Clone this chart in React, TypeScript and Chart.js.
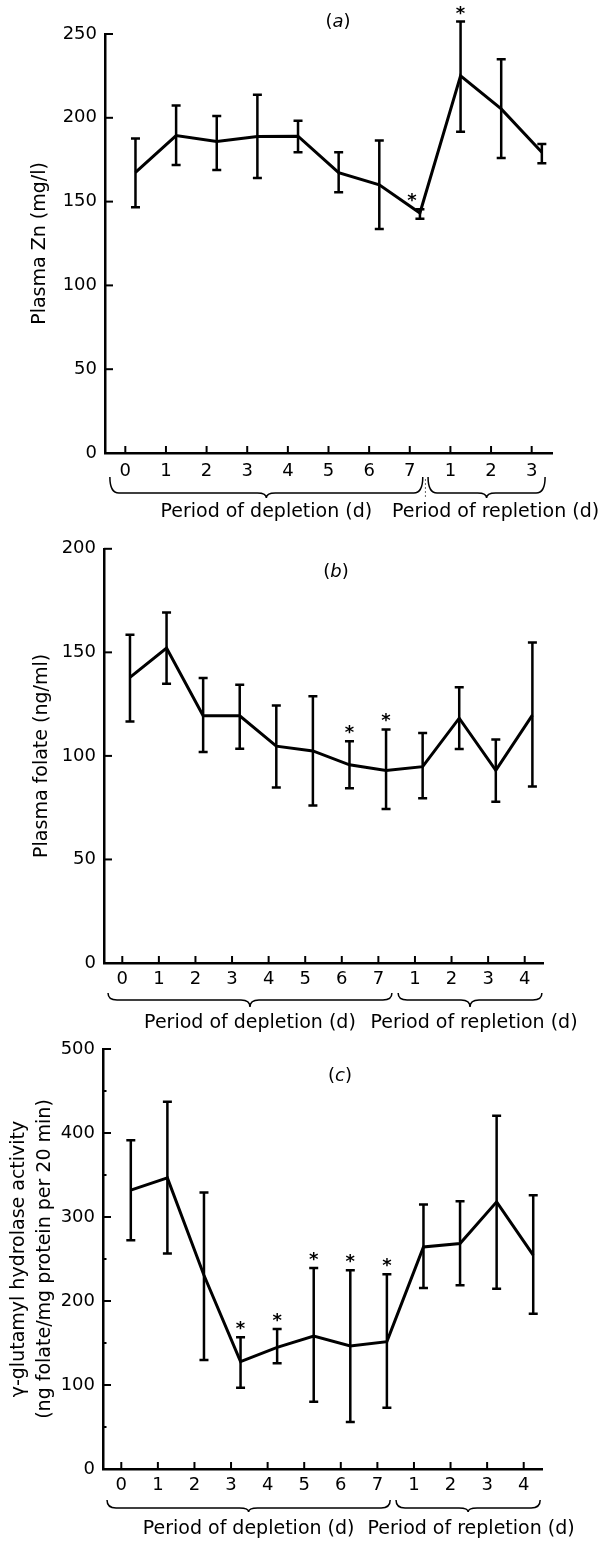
import React, { useEffect, useRef } from "react";
import { Chart, registerables } from "chart.js";

Chart.register(...registerables);

const FONT = '"DejaVu Sans", "Liberation Sans", sans-serif';

// ---------- (a) Plasma Zn ----------
const zincDays = ["0", "1", "2", "3", "4", "5", "6", "7", "1", "2", "3"];
const zincMean = [167.5, 189.4, 185.8, 188.8, 189, 167.3, 160, 143.2, 225.1, 205.3, 179.4];
const zincUpper = [187.6, 207.3, 201.1, 213.8, 198.3, 179.4, 186.4, 145.4, 257.4, 234.9, 184.4];
const zincLower = [146.6, 171.9, 168.9, 164.1, 179.4, 155.6, 133.7, 139.7, 191.7, 176, 172.9];
const zincSignificant = [false, false, false, false, false, false, false, true, true, false, false];

// ---------- (b) Plasma folate ----------
const folateDays = ["0", "1", "2", "3", "4", "5", "6", "7", "1", "2", "3", "4"];
const folateMean = [137.9, 152.1, 119.4, 119.4, 104.7, 102.4, 95.7, 93, 94.8, 118.2, 93, 119.7];
const folateUpper = [158.5, 169.2, 137.6, 134.3, 124.3, 128.8, 107.1, 112.8, 111.1, 133.2, 107.9, 154.7];
const folateLower = [116.6, 134.8, 101.9, 103.5, 84.8, 76, 84.4, 74.4, 79.6, 103.3, 77.9, 85.2];
const folateSignificant = [false, false, false, false, false, false, true, true, false, false, false, false];

// ---------- (c) gamma-glutamyl hydrolase ----------
const hydrolaseDays = ["0", "1", "2", "3", "4", "5", "6", "7", "1", "2", "3", "4"];
const hydrolaseMean = [332, 346.6, 230.6, 127.8, 144.8, 158.3, 146.4, 151.6, 264.4, 268.4, 318, 254.5];
const hydrolaseUpper = [391.5, 437.2, 329.2, 156.8, 166.7, 239.4, 236.6, 231.8, 314.9, 318.8, 420.5, 326];
const hydrolaseLower = [272.3, 256.5, 129.8, 96.8, 125.8, 80.2, 56, 73, 215.5, 218.7, 214.7, 184.9];
const hydrolaseSignificant = [false, false, false, true, true, true, true, true, false, false, false, false];

const depletionText = "Period of depletion (d)";
const repletionText = "Period of repletion (d)";

type PanelSpec = {
  key: string;
  letter: string;
  canvasTop: number;
  canvasHeight: number;
  padBottom: number;
  area: { left: number; top: number; right: number; bottom: number };
  labels: string[];
  mean: number[];
  upper: number[];
  lower: number[];
  stars: boolean[];
  starDx: number[];
  yMax: number;
  yStep: number;
  minor: boolean;
  yTitle: string | string[];
  titleLineHeight: number;
  titlePad: number;
  shift: number;
  tickPad: number;
  letterX: number;
  letterDy: number;
  depSpan: [number, number];
  repSpan: [number, number];
  brace: { dy: number; h: number; hh: number };
  textDy: number;
  repTextShift: number;
  separator: boolean;
};

const panels: PanelSpec[] = [
  {
    key: "a",
    letter: "a",
    canvasTop: 0,
    canvasHeight: 530,
    padBottom: 0,
    area: { left: 105, top: 34, right: 552, bottom: 453 },
    labels: zincDays,
    mean: zincMean,
    upper: zincUpper,
    lower: zincLower,
    stars: zincSignificant,
    starDx: [0, 0, 0, 0, 0, 0, 0, -8, 0, 0, 0],
    yMax: 250,
    yStep: 50,
    minor: false,
    yTitle: "Plasma Zn (mg/l)",
    titleLineHeight: 1.2,
    titlePad: 28.6,
    shift: 0.25,
    tickPad: 8,
    letterX: 338,
    letterDy: -12,
    depSpan: [-0.38, 7.32],
    repSpan: [7.45, 10.33],
    brace: { dy: 24, h: 21, hh: 16 },
    textDy: 59,
    repTextShift: 9,
    separator: true,
  },
  {
    key: "b",
    letter: "b",
    canvasTop: 530,
    canvasHeight: 515,
    padBottom: 15,
    area: { left: 104, top: 542, right: 543, bottom: 963 },
    labels: folateDays,
    mean: folateMean,
    upper: folateUpper,
    lower: folateLower,
    stars: folateSignificant,
    starDx: [0, 0, 0, 0, 0, 0, 0, 0, 0, 0, 0, 0],
    yMax: 200,
    yStep: 50,
    minor: false,
    yTitle: "Plasma folate (ng/ml)",
    titleLineHeight: 1.2,
    titlePad: 30.6,
    shift: 0.21,
    tickPad: 6,
    letterX: 336,
    letterDy: 24,
    depSpan: [-0.39, 7.37],
    repSpan: [7.54, 11.47],
    brace: { dy: 30, h: 14, hh: 7 },
    textDy: 60,
    repTextShift: 4,
    separator: false,
  },
  {
    key: "c",
    letter: "c",
    canvasTop: 1030,
    canvasHeight: 512,
    padBottom: 0,
    area: { left: 103, top: 1049, right: 542, bottom: 1469 },
    labels: hydrolaseDays,
    mean: hydrolaseMean,
    upper: hydrolaseUpper,
    lower: hydrolaseLower,
    stars: hydrolaseSignificant,
    starDx: [0, 0, 0, 0, 0, 0, 0, 0, 0, 0, 0, 0],
    yMax: 500,
    yStep: 100,
    minor: true,
    yTitle: ["\u03b3-glutamyl hydrolase activity", "(ng folate/mg protein per 20 min)"],
    titleLineHeight: 1.37,
    titlePad: 6,
    shift: 0.26,
    tickPad: 6,
    letterX: 340,
    letterDy: 27,
    depSpan: [-0.39, 7.35],
    repSpan: [7.51, 11.45],
    brace: { dy: 31, h: 12, hh: 8 },
    textDy: 60,
    repTextShift: 3,
    separator: false,
  },
];

function drawBrace(ctx: CanvasRenderingContext2D, x1: number, x2: number, y: number, h: number, hh: number) {
  const xm = (x1 + x2) / 2;
  const r = Math.min(9, (x2 - x1) / 8);
  ctx.beginPath();
  ctx.moveTo(x1, y);
  ctx.quadraticCurveTo(x1, y + hh, x1 + r, y + hh);
  ctx.lineTo(xm - r, y + hh);
  ctx.quadraticCurveTo(xm, y + hh, xm, y + h);
  ctx.quadraticCurveTo(xm, y + hh, xm + r, y + hh);
  ctx.lineTo(x2 - r, y + hh);
  ctx.quadraticCurveTo(x2, y + hh, x2, y);
  ctx.stroke();
}

function makeDecor(p: PanelSpec) {
  return {
    id: "decor" + p.key,
    afterDatasetsDraw(chart: any) {
      const ctx: CanvasRenderingContext2D = chart.ctx;
      const xs = chart.scales.x;
      const ys = chart.scales.y;
      const { left, top, bottom } = chart.chartArea;
      ctx.save();
      ctx.strokeStyle = "#000";
      ctx.fillStyle = "#000";
      ctx.lineCap = "butt";

      // error bars + significance stars
      p.mean.forEach((_, i) => {
        const px = xs.getPixelForValue(i + p.shift);
        const yu = ys.getPixelForValue(p.upper[i]);
        const yl = ys.getPixelForValue(p.lower[i]);
        ctx.lineWidth = 2.5;
        ctx.beginPath();
        ctx.moveTo(px, yu);
        ctx.lineTo(px, yl);
        ctx.moveTo(px - 4.5, yu);
        ctx.lineTo(px + 4.5, yu);
        ctx.moveTo(px - 4.5, yl);
        ctx.lineTo(px + 4.5, yl);
        ctx.stroke();
        if (p.stars[i]) {
          ctx.font = `bold 18px ${FONT}`;
          ctx.textAlign = "center";
          ctx.textBaseline = "alphabetic";
          ctx.fillText("*", px + p.starDx[i], yu - 3);
        }
      });

      // inward tick marks
      ctx.lineWidth = 2;
      xs.ticks.forEach((t: any) => {
        const px = xs.getPixelForValue(t.value);
        ctx.beginPath();
        ctx.moveTo(px, bottom);
        ctx.lineTo(px, bottom - 7);
        ctx.stroke();
      });
      ys.ticks.forEach((t: any) => {
        const py = ys.getPixelForValue(t.value);
        ctx.beginPath();
        ctx.moveTo(left, py);
        ctx.lineTo(left + 8, py);
        ctx.stroke();
      });
      if (p.minor) {
        ys.ticks.forEach((t: any) => {
          if (t.value >= p.yMax) return;
          const py = ys.getPixelForValue(t.value + p.yStep / 2);
          ctx.beginPath();
          ctx.moveTo(left, py);
          ctx.lineTo(left + 3.5, py);
          ctx.stroke();
        });
      }

      // braces
      ctx.lineWidth = 1.5;
      const by = bottom + p.brace.dy;
      const d1 = xs.getPixelForValue(p.depSpan[0]);
      const d2 = xs.getPixelForValue(p.depSpan[1]);
      const r1 = xs.getPixelForValue(p.repSpan[0]);
      const r2 = xs.getPixelForValue(p.repSpan[1]);
      drawBrace(ctx, d1, d2, by, p.brace.h, p.brace.hh);
      drawBrace(ctx, r1, r2, by, p.brace.h, p.brace.hh);
      if (p.separator) {
        ctx.save();
        ctx.lineWidth = 1;
        ctx.strokeStyle = "#666";
        ctx.setLineDash([2, 2]);
        const sx = (d2 + r1) / 2;
        ctx.beginPath();
        ctx.moveTo(sx, by + 2);
        ctx.lineTo(sx, by + p.brace.h);
        ctx.stroke();
        ctx.restore();
      }

      // period texts
      ctx.font = `19px ${FONT}`;
      ctx.textAlign = "center";
      ctx.textBaseline = "middle";
      ctx.fillText(depletionText, (d1 + d2) / 2, bottom + p.textDy);
      ctx.fillText(repletionText, (r1 + r2) / 2 + p.repTextShift, bottom + p.textDy);

      // panel letter "(x)" with italic letter
      const ly = top + p.letterDy;
      const upright = `18px ${FONT}`;
      const italic = `italic 18px ${FONT}`;
      ctx.font = upright;
      const wOpen = ctx.measureText("(").width;
      const wClose = ctx.measureText(")").width;
      ctx.font = italic;
      const wLetter = ctx.measureText(p.letter).width;
      const total = wOpen + wLetter + wClose;
      let lx = p.letterX - total / 2;
      ctx.textAlign = "left";
      ctx.font = upright;
      ctx.fillText("(", lx, ly);
      lx += wOpen;
      ctx.font = italic;
      ctx.fillText(p.letter, lx, ly);
      lx += wLetter;
      ctx.font = upright;
      ctx.fillText(")", lx, ly);

      ctx.restore();
    },
  };
}

function buildConfig(p: PanelSpec): any {
  const a = p.area;
  const n = p.labels.length;
  return {
    type: "line",
    data: {
      datasets: [
        {
          data: p.mean.map((v, i) => ({ x: i + p.shift, y: v })),
          borderColor: "#000",
          borderWidth: 3,
          pointRadius: 0,
          tension: 0,
          fill: false,
        },
      ],
    },
    options: {
      responsive: false,
      animation: false,
      devicePixelRatio: 1,
      layout: {
        padding: { top: a.top - p.canvasTop, right: 600 - a.right, left: 0, bottom: p.padBottom },
      },
      plugins: {
        legend: { display: false },
        tooltip: { enabled: false },
        title: { display: false },
      },
      scales: {
        x: {
          type: "linear",
          min: -0.5,
          max: n - 0.5,
          afterFit: (s: any) => {
            s.height = p.canvasTop + p.canvasHeight - p.padBottom - a.bottom;
          },
          afterBuildTicks: (s: any) => {
            s.ticks = p.labels.map((_, i) => ({ value: i }));
          },
          ticks: {
            autoSkip: false,
            maxRotation: 0,
            minRotation: 0,
            padding: p.tickPad,
            color: "#000",
            font: { family: FONT, size: 18 },
            callback: (_v: any, i: number) => p.labels[i],
          },
          grid: { display: false, drawTicks: false },
          border: { display: true, color: "#000", width: 2.5 },
        },
        y: {
          type: "linear",
          min: 0,
          max: p.yMax,
          afterFit: (s: any) => {
            s.width = a.left;
          },
          ticks: {
            stepSize: p.yStep,
            padding: 8,
            color: "#000",
            font: { family: FONT, size: 18 },
          },
          grid: { display: false, drawTicks: false },
          border: { display: true, color: "#000", width: 2.5 },
          title: {
            display: true,
            text: p.yTitle,
            color: "#000",
            font: { family: FONT, size: 19, lineHeight: p.titleLineHeight },
            padding: { top: p.titlePad, bottom: 0 },
          },
        },
      },
    },
    plugins: [makeDecor(p)],
  };
}

function PanelChart({ spec }: { spec: PanelSpec }) {
  const ref = useRef<HTMLCanvasElement>(null);
  useEffect(() => {
    if (!ref.current) return;
    const chart = new Chart(ref.current, buildConfig(spec));
    return () => chart.destroy();
  }, [spec]);
  return (
    <canvas
      ref={ref}
      width={600}
      height={spec.canvasHeight}
      style={{
        position: "absolute",
        left: 0,
        top: spec.canvasTop,
        width: 600,
        height: spec.canvasHeight,
        display: "block",
      }}
    />
  );
}

export default function App() {
  return (
    <div
      style={{
        position: "absolute",
        left: 0,
        top: 0,
        width: 600,
        height: 1542,
        background: "#fff",
        overflow: "hidden",
      }}
    >
      {panels.map((p) => (
        <PanelChart key={p.key} spec={p} />
      ))}
    </div>
  );
}
